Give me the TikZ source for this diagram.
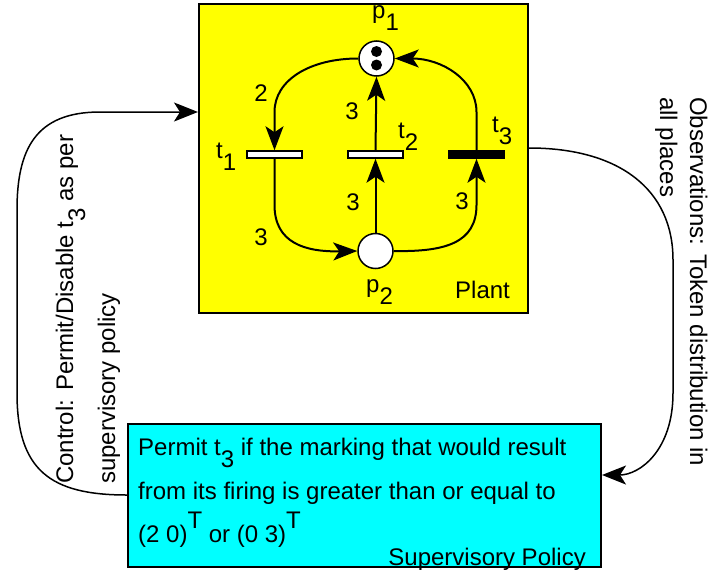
\documentclass[tikz,border=0pt]{standalone}
\usepackage{fontspec}
\setmainfont{Liberation Sans}
\usetikzlibrary{arrows.meta}
\definecolor{plantyellow}{RGB}{255,255,0}
\definecolor{supcyan}{RGB}{0,255,255}
\newcommand{\dn}[1]{\raisebox{-0.5em}{#1}}
\newcommand{\upT}[1]{\raisebox{0.58em}{#1}}
\begin{document}
\begin{tikzpicture}[x=1pt,y=-1pt,
  font=\fontsize{24}{28}\selectfont,
  place/.style={circle,draw,line width=1.5pt,fill=white,minimum size=35pt,inner sep=0pt},
  token/.style={circle,fill=black,minimum size=11pt,inner sep=0pt},
  trans/.style={rectangle,draw,line width=1.5pt,minimum width=55pt,minimum height=7pt,inner sep=0pt},
  lbl/.style={inner sep=0pt},
  arc/.style={draw,line width=2pt,-{Stealth[length=24pt,width=18pt,inset=6pt]}},
  conn/.style={draw,line width=1.5pt,-{Stealth[length=24pt,width=19pt,inset=6pt]}}]
\useasboundingbox (0,0) rectangle (714,573);
% boxes
\node[draw,line width=2pt,fill=plantyellow,minimum width=329pt,minimum height=309pt,inner sep=0pt,anchor=north west] (plant) at (198,3) {};
\node[draw,line width=2pt,fill=supcyan,minimum width=473pt,minimum height=143pt,inner sep=0pt,anchor=north west] (sup) at (127,423) {};
% places
\node[place] (p1) at (376.5,58.5) {};
\node[token] (tk1) at (376.5,51.5) {};
\node[token] (tk2) at (376.5,65) {};
\node[place] (p2) at (375.5,251) {};
% transitions
\node[trans,fill=white] (t1) at (274.5,154.5) {};
\node[trans,fill=white] (t2) at (375.5,154.5) {};
\node[trans,fill=black] (t3) at (476.5,154.5) {};
% labels
\node[lbl,anchor=base west] (lp1) at (372,18) {p\dn{1}};
\node[lbl,anchor=base west] (lp2) at (366,292) {p\dn{2}};
\node[lbl,anchor=base west] (lt1) at (216,158) {t\dn{1}};
\node[lbl,anchor=base west] (lt2) at (398,138) {t\dn{2}};
\node[lbl,anchor=base west] (lt3) at (492,132) {t\dn{3}};
\node[lbl,anchor=base west] (lplant) at (455,298) {Plant};
% weights
\node[lbl] (w1) at (261,93) {2};
\node[lbl] (w2) at (352,111) {3};
\node[lbl] (w3) at (353,202) {3};
\node[lbl] (w4) at (462,201) {3};
\node[lbl] (w5) at (261,237) {3};
% arcs
\draw[arc] (p1.west) .. controls (310,58.5) and (274.5,80) .. (274.5,112) -- (t1.north);
\draw[arc] (t1.south) -- (274.5,205) .. controls (274.5,243) and (305,252) .. (p2.west);
\draw[arc] (p2.north) -- (t2.south);
\draw[arc] (t2.north) -- (p1.south);
\draw[arc] (p2.east) .. controls (445,252) and (476.5,243) .. (476.5,205) -- (t3.south);
\draw[arc] (t3.north) -- (476.5,112) .. controls (476.5,80) and (442,58.5) .. (p1.east);
% policy text
\node[lbl,anchor=base west] (s1) at (138,455) {Permit t\dn{3} if the marking that would result};
\node[lbl,anchor=base west] (s2) at (138,499) {from its firing is greater than or equal to};
\node[lbl,anchor=base west] (s3) at (138,542) {(2 0)\upT{T} or (0 3)\upT{T}};
\node[lbl,anchor=base east] (s4) at (586,565) {Supervisory Policy};
% connectors
\coordinate (h1) at (0,112);
\coordinate (h2) at (0,495);
\coordinate (h3) at (0,148);
\coordinate (h4) at (0,475);
\draw[conn] (sup.west |- h2) .. controls (50,495) and (17,470) .. (17,393) -- (17,210) .. controls (17,150) and (35,112) .. (100,112) -- (plant.west |- h1);
\draw[conn] (plant.east |- h3) .. controls (620,148) and (673,190) .. (673,260) -- (673,393) .. controls (673,450) and (640,475) .. (sup.east |- h4);
% rotated texts
\node[lbl,anchor=base west,rotate=90] (c1) at (73,484) {Control: Permit/Disable t\dn{3} as per};
\node[lbl,anchor=base west,rotate=90] (c2) at (115,484) {supervisory policy};
\node[lbl,anchor=base west,rotate=-90] (o1) at (690,97) {Observations: Token distribution in};
\node[lbl,anchor=base west,rotate=-90] (o2) at (660,97) {all places};
\end{tikzpicture}
\end{document}
